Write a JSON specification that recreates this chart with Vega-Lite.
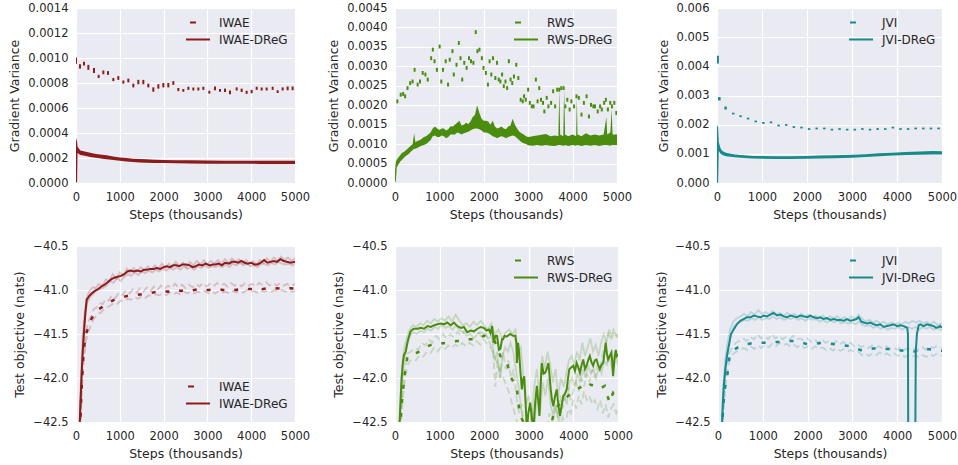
{
"$schema":"https://vega.github.io/schema/vega-lite/v6.json",
"background":"white",
"padding":{"left":8,"top":2,"right":0,"bottom":0},
"config":{
"view":{"fill":"#EAEAF2","stroke":null},
"axis":{"domain":false,"ticks":false,"tickSize":0,"grid":true,"gridColor":"#ffffff","gridWidth":1.2,"gridOpacity":1,"labelFont":"DejaVu Sans","labelFontSize":11.5,"labelColor":"#262626","labelPadding":8,"labelFlush":false,"labelOverlap":false,"titleFont":"DejaVu Sans","titleFontSize":12.5,"titleFontWeight":"normal","titleColor":"#262626","titlePadding":6},
"legend":{"labelFont":"DejaVu Sans","labelFontSize":12,"labelColor":"#262626","labelOffset":8,"rowPadding":0,"clipHeight":17,"padding":0,"symbolType":"stroke","symbolSize":576,"symbolStrokeWidth":2,"orient":"none"}
},
"datasets":{
"p1b":[{"x":0,"lo":0.000955,"hi":0.001005},{"x":91,"lo":0.000915,"hi":0.00095},{"x":183,"lo":0.00094,"hi":0.00097},{"x":282,"lo":0.000905,"hi":0.000945},{"x":411,"lo":0.00088,"hi":0.00092},{"x":517,"lo":0.00084,"hi":0.000865},{"x":624,"lo":0.00087,"hi":0.0009},{"x":731,"lo":0.000865,"hi":0.000895},{"x":852,"lo":0.000815,"hi":0.00084},{"x":966,"lo":0.000825,"hi":0.000855},{"x":1081,"lo":0.000795,"hi":0.00082},{"x":1195,"lo":0.000805,"hi":0.000835},{"x":1309,"lo":0.000765,"hi":0.000795},{"x":1423,"lo":0.00079,"hi":0.000825},{"x":1537,"lo":0.00079,"hi":0.000825},{"x":1651,"lo":0.000765,"hi":0.000795},{"x":1765,"lo":0.00073,"hi":0.000765},{"x":1880,"lo":0.000755,"hi":0.00079},{"x":1994,"lo":0.000765,"hi":0.0008},{"x":2108,"lo":0.000765,"hi":0.0008},{"x":2222,"lo":0.000785,"hi":0.000815},{"x":2336,"lo":0.000735,"hi":0.00076},{"x":2450,"lo":0.00073,"hi":0.000752},{"x":2565,"lo":0.000745,"hi":0.00077},{"x":2679,"lo":0.00074,"hi":0.000764},{"x":2793,"lo":0.00074,"hi":0.000764},{"x":2907,"lo":0.000745,"hi":0.00077},{"x":3044,"lo":0.000715,"hi":0.000738},{"x":3173,"lo":0.000742,"hi":0.000772},{"x":3288,"lo":0.00073,"hi":0.000752},{"x":3402,"lo":0.000728,"hi":0.000755},{"x":3516,"lo":0.00071,"hi":0.00074},{"x":3668,"lo":0.00074,"hi":0.000765},{"x":3782,"lo":0.000728,"hi":0.000755},{"x":3896,"lo":0.000713,"hi":0.000738},{"x":4010,"lo":0.000718,"hi":0.000745},{"x":4125,"lo":0.000745,"hi":0.00077},{"x":4239,"lo":0.00074,"hi":0.000764},{"x":4353,"lo":0.00074,"hi":0.000764},{"x":4490,"lo":0.000745,"hi":0.00077},{"x":4604,"lo":0.00072,"hi":0.000742},{"x":4718,"lo":0.00074,"hi":0.000765},{"x":4832,"lo":0.000742,"hi":0.000772},{"x":4946,"lo":0.000742,"hi":0.000772}],
"p1d":[{"x":0,"lo":0,"hi":0.00036},{"x":25,"lo":0.00001,"hi":0.00033},{"x":35,"lo":0.00024,"hi":0.00029},{"x":100,"lo":0.000225,"hi":0.00026},{"x":200,"lo":0.000218,"hi":0.000252},{"x":300,"lo":0.00021,"hi":0.000245},{"x":400,"lo":0.000205,"hi":0.000237},{"x":500,"lo":0.0002,"hi":0.00023},{"x":600,"lo":0.000195,"hi":0.000226},{"x":700,"lo":0.00019,"hi":0.000222},{"x":850,"lo":0.000184,"hi":0.000213},{"x":1000,"lo":0.000178,"hi":0.000205},{"x":1150,"lo":0.000172,"hi":0.0002},{"x":1300,"lo":0.000168,"hi":0.000195},{"x":1450,"lo":0.000165,"hi":0.000192},{"x":1600,"lo":0.000163,"hi":0.00019},{"x":1800,"lo":0.000161,"hi":0.000187},{"x":2000,"lo":0.00016,"hi":0.000185},{"x":2300,"lo":0.000158,"hi":0.000183},{"x":2600,"lo":0.000157,"hi":0.000182},{"x":3000,"lo":0.000155,"hi":0.00018},{"x":3400,"lo":0.000155,"hi":0.000179},{"x":3800,"lo":0.000154,"hi":0.000179},{"x":4200,"lo":0.000153,"hi":0.000178},{"x":4600,"lo":0.000153,"hi":0.000178},{"x":5000,"lo":0.000153,"hi":0.000178}],
"p2b":[{"x":53,"lo":0.00205,"hi":0.00215},{"x":129,"lo":0.00222,"hi":0.00232},{"x":183,"lo":0.00224,"hi":0.00234},{"x":228,"lo":0.00218,"hi":0.00228},{"x":282,"lo":0.00239,"hi":0.00249},{"x":342,"lo":0.00252,"hi":0.00262},{"x":396,"lo":0.00256,"hi":0.00266},{"x":441,"lo":0.00286,"hi":0.00296},{"x":510,"lo":0.00248,"hi":0.00258},{"x":563,"lo":0.00256,"hi":0.00266},{"x":624,"lo":0.00278,"hi":0.00288},{"x":685,"lo":0.00274,"hi":0.00284},{"x":738,"lo":0.00261,"hi":0.00271},{"x":814,"lo":0.00316,"hi":0.00326},{"x":852,"lo":0.00338,"hi":0.00348},{"x":890,"lo":0.00308,"hi":0.00318},{"x":944,"lo":0.00286,"hi":0.00296},{"x":1005,"lo":0.00346,"hi":0.00356},{"x":1043,"lo":0.00256,"hi":0.00266},{"x":1081,"lo":0.00286,"hi":0.00296},{"x":1142,"lo":0.00308,"hi":0.00318},{"x":1195,"lo":0.00248,"hi":0.00258},{"x":1233,"lo":0.00312,"hi":0.00322},{"x":1294,"lo":0.00334,"hi":0.00344},{"x":1324,"lo":0.00274,"hi":0.00284},{"x":1385,"lo":0.00299,"hi":0.00309},{"x":1438,"lo":0.00355,"hi":0.00365},{"x":1476,"lo":0.00316,"hi":0.00326},{"x":1514,"lo":0.00261,"hi":0.00271},{"x":1560,"lo":0.00304,"hi":0.00314},{"x":1613,"lo":0.00291,"hi":0.00301},{"x":1667,"lo":0.00316,"hi":0.00326},{"x":1712,"lo":0.00308,"hi":0.00318},{"x":1766,"lo":0.00304,"hi":0.00314},{"x":1819,"lo":0.00383,"hi":0.00393},{"x":1857,"lo":0.00334,"hi":0.00344},{"x":1902,"lo":0.00338,"hi":0.00348},{"x":1956,"lo":0.00316,"hi":0.00326},{"x":1994,"lo":0.00291,"hi":0.00301},{"x":2047,"lo":0.00278,"hi":0.00288},{"x":2093,"lo":0.00248,"hi":0.00258},{"x":2131,"lo":0.00308,"hi":0.00318},{"x":2169,"lo":0.00274,"hi":0.00284},{"x":2207,"lo":0.00316,"hi":0.00326},{"x":2260,"lo":0.00265,"hi":0.00275},{"x":2298,"lo":0.00304,"hi":0.00314},{"x":2336,"lo":0.00261,"hi":0.00271},{"x":2374,"lo":0.00256,"hi":0.00266},{"x":2412,"lo":0.00274,"hi":0.00284},{"x":2450,"lo":0.00244,"hi":0.00254},{"x":2488,"lo":0.00256,"hi":0.00266},{"x":2526,"lo":0.00239,"hi":0.00249},{"x":2564,"lo":0.00308,"hi":0.00318},{"x":2603,"lo":0.00261,"hi":0.00271},{"x":2641,"lo":0.00252,"hi":0.00262},{"x":2679,"lo":0.00269,"hi":0.00279},{"x":2732,"lo":0.00299,"hi":0.00309},{"x":2778,"lo":0.00265,"hi":0.00275},{"x":2831,"lo":0.00209,"hi":0.00219},{"x":2877,"lo":0.00205,"hi":0.00215},{"x":2907,"lo":0.00218,"hi":0.00228},{"x":2945,"lo":0.00209,"hi":0.00219},{"x":2998,"lo":0.00235,"hi":0.00245},{"x":3036,"lo":0.00201,"hi":0.00211},{"x":3082,"lo":0.00192,"hi":0.00202},{"x":3120,"lo":0.00192,"hi":0.00202},{"x":3173,"lo":0.00261,"hi":0.00271},{"x":3211,"lo":0.00205,"hi":0.00215},{"x":3249,"lo":0.00239,"hi":0.00249},{"x":3288,"lo":0.00209,"hi":0.00219},{"x":3333,"lo":0.00201,"hi":0.00211},{"x":3364,"lo":0.00179,"hi":0.00189},{"x":3417,"lo":0.00214,"hi":0.00224},{"x":3455,"lo":0.00192,"hi":0.00202},{"x":3516,"lo":0.00201,"hi":0.00211},{"x":3562,"lo":0.00231,"hi":0.00241},{"x":3607,"lo":0.00192,"hi":0.00202},{"x":3653,"lo":0.00235,"hi":0.00245},{"x":3699,"lo":0.00235,"hi":0.00245},{"x":3745,"lo":0.00239,"hi":0.00249},{"x":3798,"lo":0.00239,"hi":0.00249},{"x":3836,"lo":0.00192,"hi":0.00202},{"x":3881,"lo":0.00209,"hi":0.00219},{"x":3934,"lo":0.00184,"hi":0.00194},{"x":3973,"lo":0.00205,"hi":0.00215},{"x":4033,"lo":0.00192,"hi":0.00202},{"x":4087,"lo":0.00218,"hi":0.00228},{"x":4140,"lo":0.00214,"hi":0.00224},{"x":4201,"lo":0.00171,"hi":0.00181},{"x":4254,"lo":0.00201,"hi":0.00211},{"x":4315,"lo":0.00218,"hi":0.00228},{"x":4368,"lo":0.00166,"hi":0.00176},{"x":4414,"lo":0.00196,"hi":0.00206},{"x":4467,"lo":0.00192,"hi":0.00202},{"x":4505,"lo":0.00192,"hi":0.00202},{"x":4566,"lo":0.00179,"hi":0.00189},{"x":4619,"lo":0.00192,"hi":0.00202},{"x":4657,"lo":0.00184,"hi":0.00194},{"x":4711,"lo":0.00201,"hi":0.00211},{"x":4749,"lo":0.00209,"hi":0.00219},{"x":4795,"lo":0.00184,"hi":0.00194},{"x":4848,"lo":0.00201,"hi":0.00211},{"x":4886,"lo":0.00192,"hi":0.00202},{"x":4939,"lo":0.00201,"hi":0.00211},{"x":4985,"lo":0.00175,"hi":0.00185}],
"p2d":[{"x":0,"lo":0,"hi":0.0003},{"x":20,"lo":0.00005,"hi":0.00055},{"x":40,"lo":0.0004,"hi":0.0006},{"x":80,"lo":0.00048,"hi":0.00066},{"x":120,"lo":0.00055,"hi":0.00072},{"x":160,"lo":0.0006,"hi":0.00078},{"x":200,"lo":0.00065,"hi":0.0008},{"x":250,"lo":0.0007,"hi":0.00085},{"x":300,"lo":0.00074,"hi":0.0009},{"x":350,"lo":0.0008,"hi":0.00095},{"x":400,"lo":0.00085,"hi":0.001},{"x":430,"lo":0.00088,"hi":0.00128},{"x":460,"lo":0.00088,"hi":0.00105},{"x":500,"lo":0.0009,"hi":0.00108},{"x":550,"lo":0.00093,"hi":0.0011},{"x":600,"lo":0.00096,"hi":0.00113},{"x":650,"lo":0.00098,"hi":0.00118},{"x":700,"lo":0.001,"hi":0.0012},{"x":750,"lo":0.00105,"hi":0.00125},{"x":800,"lo":0.0011,"hi":0.0013},{"x":850,"lo":0.0012,"hi":0.0014},{"x":900,"lo":0.00122,"hi":0.00145},{"x":950,"lo":0.00118,"hi":0.0014},{"x":1000,"lo":0.00118,"hi":0.00136},{"x":1050,"lo":0.00122,"hi":0.0014},{"x":1100,"lo":0.0012,"hi":0.0014},{"x":1150,"lo":0.00115,"hi":0.00135},{"x":1200,"lo":0.00118,"hi":0.00138},{"x":1250,"lo":0.00125,"hi":0.00146},{"x":1300,"lo":0.00125,"hi":0.00145},{"x":1350,"lo":0.00125,"hi":0.0015},{"x":1400,"lo":0.0013,"hi":0.00155},{"x":1450,"lo":0.00128,"hi":0.0016},{"x":1500,"lo":0.00125,"hi":0.00148},{"x":1550,"lo":0.00128,"hi":0.0015},{"x":1600,"lo":0.0013,"hi":0.00155},{"x":1650,"lo":0.00132,"hi":0.00152},{"x":1700,"lo":0.00135,"hi":0.00158},{"x":1750,"lo":0.00138,"hi":0.0017},{"x":1800,"lo":0.0014,"hi":0.00175},{"x":1850,"lo":0.0014,"hi":0.002},{"x":1900,"lo":0.00138,"hi":0.0018},{"x":1950,"lo":0.00135,"hi":0.00165},{"x":2000,"lo":0.0013,"hi":0.0016},{"x":2050,"lo":0.0013,"hi":0.0016},{"x":2100,"lo":0.00128,"hi":0.00158},{"x":2150,"lo":0.00125,"hi":0.0015},{"x":2200,"lo":0.0012,"hi":0.0016},{"x":2250,"lo":0.00118,"hi":0.00145},{"x":2300,"lo":0.00115,"hi":0.0014},{"x":2350,"lo":0.00118,"hi":0.00142},{"x":2400,"lo":0.0012,"hi":0.00145},{"x":2450,"lo":0.00118,"hi":0.0014},{"x":2500,"lo":0.00115,"hi":0.00138},{"x":2550,"lo":0.00118,"hi":0.00145},{"x":2600,"lo":0.0012,"hi":0.00148},{"x":2650,"lo":0.00122,"hi":0.00165},{"x":2700,"lo":0.0012,"hi":0.0015},{"x":2750,"lo":0.00115,"hi":0.0014},{"x":2800,"lo":0.0011,"hi":0.00132},{"x":2850,"lo":0.00105,"hi":0.00128},{"x":2900,"lo":0.00102,"hi":0.00125},{"x":2950,"lo":0.001,"hi":0.0012},{"x":3000,"lo":0.00097,"hi":0.00118},{"x":3100,"lo":0.00096,"hi":0.0012},{"x":3200,"lo":0.00098,"hi":0.00122},{"x":3300,"lo":0.00096,"hi":0.00124},{"x":3400,"lo":0.00098,"hi":0.00126},{"x":3500,"lo":0.00096,"hi":0.0012},{"x":3600,"lo":0.00095,"hi":0.00122},{"x":3680,"lo":0.00098,"hi":0.0012},{"x":3700,"lo":0.00098,"hi":0.0024},{"x":3720,"lo":0.00098,"hi":0.00125},{"x":3790,"lo":0.00096,"hi":0.0012},{"x":3810,"lo":0.00096,"hi":0.0024},{"x":3830,"lo":0.00098,"hi":0.00125},{"x":3900,"lo":0.00095,"hi":0.0012},{"x":4000,"lo":0.00098,"hi":0.00125},{"x":4080,"lo":0.00096,"hi":0.0012},{"x":4095,"lo":0.00098,"hi":0.0022},{"x":4110,"lo":0.00098,"hi":0.00125},{"x":4200,"lo":0.00095,"hi":0.0012},{"x":4300,"lo":0.00098,"hi":0.00128},{"x":4400,"lo":0.00096,"hi":0.00122},{"x":4500,"lo":0.00098,"hi":0.00125},{"x":4600,"lo":0.00095,"hi":0.00122},{"x":4700,"lo":0.00098,"hi":0.00125},{"x":4760,"lo":0.00098,"hi":0.0017},{"x":4780,"lo":0.00098,"hi":0.00125},{"x":4850,"lo":0.00096,"hi":0.0013},{"x":4880,"lo":0.00098,"hi":0.0019},{"x":4900,"lo":0.00098,"hi":0.00125},{"x":5000,"lo":0.00098,"hi":0.00125}],
"p3b":[{"x":15,"lo":0.0041,"hi":0.00436},{"x":52,"lo":0.00283,"hi":0.00295},{"x":191,"lo":0.00252,"hi":0.00262},{"x":361,"lo":0.00235,"hi":0.00241},{"x":523,"lo":0.00226,"hi":0.00232},{"x":692,"lo":0.00218,"hi":0.00224},{"x":861,"lo":0.00208,"hi":0.00214},{"x":1030,"lo":0.00203,"hi":0.00209},{"x":1200,"lo":0.00205,"hi":0.00211},{"x":1369,"lo":0.00194,"hi":0.002},{"x":1538,"lo":0.00196,"hi":0.00202},{"x":1708,"lo":0.00189,"hi":0.00195},{"x":1877,"lo":0.00187,"hi":0.00193},{"x":2046,"lo":0.00182,"hi":0.00188},{"x":2215,"lo":0.00184,"hi":0.0019},{"x":2385,"lo":0.00184,"hi":0.0019},{"x":2554,"lo":0.0018,"hi":0.00186},{"x":2723,"lo":0.00182,"hi":0.00188},{"x":2892,"lo":0.0018,"hi":0.00186},{"x":3062,"lo":0.0018,"hi":0.00186},{"x":3231,"lo":0.00182,"hi":0.00188},{"x":3400,"lo":0.0018,"hi":0.00186},{"x":3570,"lo":0.00182,"hi":0.00188},{"x":3739,"lo":0.00182,"hi":0.00188},{"x":3908,"lo":0.00187,"hi":0.00193},{"x":4077,"lo":0.00182,"hi":0.00188},{"x":4247,"lo":0.00182,"hi":0.00188},{"x":4416,"lo":0.00184,"hi":0.0019},{"x":4585,"lo":0.00184,"hi":0.0019},{"x":4755,"lo":0.00184,"hi":0.0019},{"x":4924,"lo":0.00184,"hi":0.0019}],
"p3d":[{"x":0,"lo":0,"hi":0.002},{"x":25,"lo":0.00002,"hi":0.0019},{"x":40,"lo":0.0011,"hi":0.0014},{"x":80,"lo":0.001,"hi":0.00118},{"x":120,"lo":0.00096,"hi":0.0011},{"x":200,"lo":0.00092,"hi":0.00104},{"x":300,"lo":0.0009,"hi":0.001},{"x":400,"lo":0.00088,"hi":0.00098},{"x":600,"lo":0.00086,"hi":0.00095},{"x":800,"lo":0.00084,"hi":0.00093},{"x":1000,"lo":0.00083,"hi":0.00093},{"x":1300,"lo":0.00082,"hi":0.00092},{"x":1600,"lo":0.00082,"hi":0.00092},{"x":2000,"lo":0.00083,"hi":0.00093},{"x":2300,"lo":0.00084,"hi":0.00094},{"x":2600,"lo":0.00085,"hi":0.00095},{"x":3000,"lo":0.00087,"hi":0.00097},{"x":3300,"lo":0.00089,"hi":0.00099},{"x":3600,"lo":0.00092,"hi":0.00102},{"x":3900,"lo":0.00094,"hi":0.00104},{"x":4200,"lo":0.00096,"hi":0.00106},{"x":4500,"lo":0.00097,"hi":0.00108},{"x":4800,"lo":0.00098,"hi":0.0011},{"x":5000,"lo":0.00098,"hi":0.00109}],
"p4md":[{"x":80,"y":-42.6},{"x":100,"y":-42.3},{"x":134,"y":-41.9},{"x":160,"y":-41.65},{"x":186,"y":-41.45},{"x":215,"y":-41.25},{"x":245,"y":-41.11},{"x":300,"y":-41.07},{"x":357,"y":-41.04},{"x":430,"y":-41.01},{"x":505,"y":-40.99},{"x":580,"y":-40.96},{"x":654,"y":-40.94},{"x":728,"y":-40.91},{"x":802,"y":-40.88},{"x":877,"y":-40.86},{"x":951,"y":-40.85},{"x":1025,"y":-40.84},{"x":1100,"y":-40.82},{"x":1174,"y":-40.79},{"x":1250,"y":-40.78},{"x":1320,"y":-40.79},{"x":1397,"y":-40.78},{"x":1480,"y":-40.79},{"x":1550,"y":-40.77},{"x":1620,"y":-40.77},{"x":1700,"y":-40.76},{"x":1770,"y":-40.76},{"x":1843,"y":-40.75},{"x":1920,"y":-40.76},{"x":2000,"y":-40.74},{"x":2066,"y":-40.73},{"x":2150,"y":-40.74},{"x":2220,"y":-40.72},{"x":2288,"y":-40.72},{"x":2360,"y":-40.73},{"x":2430,"y":-40.71},{"x":2511,"y":-40.71},{"x":2600,"y":-40.72},{"x":2660,"y":-40.74},{"x":2734,"y":-40.73},{"x":2800,"y":-40.71},{"x":2880,"y":-40.72},{"x":2957,"y":-40.7},{"x":3050,"y":-40.72},{"x":3120,"y":-40.71},{"x":3180,"y":-40.71},{"x":3260,"y":-40.7},{"x":3330,"y":-40.72},{"x":3403,"y":-40.69},{"x":3500,"y":-40.7},{"x":3560,"y":-40.68},{"x":3626,"y":-40.68},{"x":3700,"y":-40.69},{"x":3775,"y":-40.67},{"x":3850,"y":-40.69},{"x":3920,"y":-40.7},{"x":3998,"y":-40.69},{"x":4070,"y":-40.71},{"x":4146,"y":-40.71},{"x":4220,"y":-40.69},{"x":4295,"y":-40.66},{"x":4370,"y":-40.69},{"x":4440,"y":-40.68},{"x":4518,"y":-40.67},{"x":4590,"y":-40.68},{"x":4666,"y":-40.65},{"x":4740,"y":-40.67},{"x":4815,"y":-40.68},{"x":4900,"y":-40.69},{"x":5000,"y":-40.68}],
"p4mb":[{"x":95,"y":-42.6},{"x":120,"y":-42.2},{"x":150,"y":-41.9},{"x":171,"y":-41.71},{"x":220,"y":-41.52},{"x":282,"y":-41.41},{"x":350,"y":-41.33},{"x":430,"y":-41.26},{"x":505,"y":-41.22},{"x":580,"y":-41.2},{"x":660,"y":-41.17},{"x":730,"y":-41.15},{"x":800,"y":-41.13},{"x":877,"y":-41.11},{"x":960,"y":-41.1},{"x":1050,"y":-41.08},{"x":1150,"y":-41.07},{"x":1248,"y":-41.06},{"x":1350,"y":-41.06},{"x":1450,"y":-41.05},{"x":1550,"y":-41.05},{"x":1650,"y":-41.04},{"x":1750,"y":-41.03},{"x":1850,"y":-41.02},{"x":1992,"y":-41.01},{"x":2100,"y":-41.02},{"x":2200,"y":-41.0},{"x":2288,"y":-41.0},{"x":2400,"y":-41.01},{"x":2500,"y":-41.0},{"x":2600,"y":-41.01},{"x":2700,"y":-41.0},{"x":2800,"y":-40.99},{"x":2900,"y":-41.0},{"x":3031,"y":-41.0},{"x":3150,"y":-40.99},{"x":3254,"y":-40.99},{"x":3350,"y":-41.0},{"x":3450,"y":-41.0},{"x":3550,"y":-40.99},{"x":3650,"y":-41.0},{"x":3750,"y":-40.99},{"x":3850,"y":-40.98},{"x":3950,"y":-40.99},{"x":4050,"y":-40.99},{"x":4150,"y":-41.0},{"x":4250,"y":-40.99},{"x":4350,"y":-40.98},{"x":4450,"y":-40.99},{"x":4550,"y":-40.98},{"x":4666,"y":-40.985},{"x":4780,"y":-40.99},{"x":4880,"y":-40.98},{"x":5000,"y":-40.985}],
"p4ld":[{"r":"a","x":80,"y":-42.6},{"r":"a","x":120,"y":-41.9},{"r":"a","x":150,"y":-41.55},{"r":"a","x":190,"y":-41.3},{"r":"a","x":240,"y":-41.1},{"r":"a","x":300,"y":-41.02},{"r":"a","x":380,"y":-40.97},{"r":"a","x":450,"y":-40.98},{"r":"a","x":520,"y":-40.93},{"r":"a","x":600,"y":-40.95},{"r":"a","x":680,"y":-40.88},{"r":"a","x":760,"y":-40.9},{"r":"a","x":840,"y":-40.82},{"r":"a","x":920,"y":-40.87},{"r":"a","x":1000,"y":-40.8},{"r":"a","x":1080,"y":-40.84},{"r":"a","x":1160,"y":-40.76},{"r":"a","x":1240,"y":-40.8},{"r":"a","x":1320,"y":-40.75},{"r":"a","x":1400,"y":-40.79},{"r":"a","x":1480,"y":-40.74},{"r":"a","x":1560,"y":-40.78},{"r":"a","x":1640,"y":-40.73},{"r":"a","x":1720,"y":-40.77},{"r":"a","x":1800,"y":-40.72},{"r":"a","x":1880,"y":-40.76},{"r":"a","x":1960,"y":-40.7},{"r":"a","x":2040,"y":-40.75},{"r":"a","x":2120,"y":-40.7},{"r":"a","x":2200,"y":-40.74},{"r":"a","x":2280,"y":-40.68},{"r":"a","x":2360,"y":-40.73},{"r":"a","x":2440,"y":-40.69},{"r":"a","x":2520,"y":-40.74},{"r":"a","x":2600,"y":-40.68},{"r":"a","x":2680,"y":-40.72},{"r":"a","x":2760,"y":-40.67},{"r":"a","x":2840,"y":-40.71},{"r":"a","x":2920,"y":-40.66},{"r":"a","x":3000,"y":-40.71},{"r":"a","x":3080,"y":-40.67},{"r":"a","x":3160,"y":-40.7},{"r":"a","x":3240,"y":-40.66},{"r":"a","x":3320,"y":-40.7},{"r":"a","x":3400,"y":-40.65},{"r":"a","x":3480,"y":-40.69},{"r":"a","x":3560,"y":-40.64},{"r":"a","x":3640,"y":-40.68},{"r":"a","x":3720,"y":-40.65},{"r":"a","x":3800,"y":-40.7},{"r":"a","x":3880,"y":-40.66},{"r":"a","x":3960,"y":-40.7},{"r":"a","x":4040,"y":-40.67},{"r":"a","x":4120,"y":-40.71},{"r":"a","x":4200,"y":-40.66},{"r":"a","x":4280,"y":-40.69},{"r":"a","x":4360,"y":-40.64},{"r":"a","x":4440,"y":-40.68},{"r":"a","x":4520,"y":-40.63},{"r":"a","x":4600,"y":-40.67},{"r":"a","x":4680,"y":-40.62},{"r":"a","x":4760,"y":-40.66},{"r":"a","x":4840,"y":-40.63},{"r":"a","x":4920,"y":-40.67},{"r":"a","x":5000,"y":-40.64},
{"r":"b","x":90,"y":-42.6},{"r":"b","x":130,"y":-41.95},{"r":"b","x":160,"y":-41.6},{"r":"b","x":200,"y":-41.35},{"r":"b","x":250,"y":-41.15},{"r":"b","x":320,"y":-41.08},{"r":"b","x":400,"y":-41.04},{"r":"b","x":470,"y":-41.0},{"r":"b","x":550,"y":-40.99},{"r":"b","x":630,"y":-40.97},{"r":"b","x":700,"y":-40.95},{"r":"b","x":780,"y":-40.9},{"r":"b","x":860,"y":-40.92},{"r":"b","x":940,"y":-40.86},{"r":"b","x":1020,"y":-40.9},{"r":"b","x":1100,"y":-40.85},{"r":"b","x":1180,"y":-40.82},{"r":"b","x":1260,"y":-40.84},{"r":"b","x":1340,"y":-40.8},{"r":"b","x":1420,"y":-40.83},{"r":"b","x":1500,"y":-40.79},{"r":"b","x":1580,"y":-40.81},{"r":"b","x":1660,"y":-40.78},{"r":"b","x":1740,"y":-40.8},{"r":"b","x":1820,"y":-40.77},{"r":"b","x":1900,"y":-40.79},{"r":"b","x":1980,"y":-40.76},{"r":"b","x":2060,"y":-40.78},{"r":"b","x":2140,"y":-40.75},{"r":"b","x":2220,"y":-40.77},{"r":"b","x":2300,"y":-40.74},{"r":"b","x":2380,"y":-40.77},{"r":"b","x":2460,"y":-40.73},{"r":"b","x":2540,"y":-40.76},{"r":"b","x":2620,"y":-40.74},{"r":"b","x":2700,"y":-40.77},{"r":"b","x":2780,"y":-40.73},{"r":"b","x":2860,"y":-40.75},{"r":"b","x":2940,"y":-40.72},{"r":"b","x":3020,"y":-40.75},{"r":"b","x":3100,"y":-40.73},{"r":"b","x":3180,"y":-40.74},{"r":"b","x":3260,"y":-40.72},{"r":"b","x":3340,"y":-40.74},{"r":"b","x":3420,"y":-40.71},{"r":"b","x":3500,"y":-40.74},{"r":"b","x":3580,"y":-40.7},{"r":"b","x":3660,"y":-40.72},{"r":"b","x":3740,"y":-40.69},{"r":"b","x":3820,"y":-40.72},{"r":"b","x":3900,"y":-40.7},{"r":"b","x":3980,"y":-40.73},{"r":"b","x":4060,"y":-40.72},{"r":"b","x":4140,"y":-40.74},{"r":"b","x":4220,"y":-40.71},{"r":"b","x":4300,"y":-40.7},{"r":"b","x":4380,"y":-40.72},{"r":"b","x":4460,"y":-40.69},{"r":"b","x":4540,"y":-40.71},{"r":"b","x":4620,"y":-40.68},{"r":"b","x":4700,"y":-40.7},{"r":"b","x":4780,"y":-40.71},{"r":"b","x":4860,"y":-40.7},{"r":"b","x":4940,"y":-40.72},{"r":"b","x":5000,"y":-40.7}],
"p4lb":[{"r":"c","x":95,"y":-42.6},{"r":"c","x":130,"y":-42.0},{"r":"c","x":170,"y":-41.65},{"r":"c","x":220,"y":-41.5},{"r":"c","x":280,"y":-41.36},{"r":"c","x":340,"y":-41.3},{"r":"c","x":400,"y":-41.22},{"r":"c","x":470,"y":-41.2},{"r":"c","x":540,"y":-41.15},{"r":"c","x":610,"y":-41.16},{"r":"c","x":680,"y":-41.1},{"r":"c","x":750,"y":-41.12},{"r":"c","x":820,"y":-41.06},{"r":"c","x":900,"y":-41.09},{"r":"c","x":980,"y":-41.03},{"r":"c","x":1060,"y":-41.06},{"r":"c","x":1140,"y":-41.0},{"r":"c","x":1220,"y":-41.04},{"r":"c","x":1300,"y":-40.99},{"r":"c","x":1380,"y":-41.03},{"r":"c","x":1460,"y":-40.98},{"r":"c","x":1540,"y":-41.02},{"r":"c","x":1620,"y":-40.97},{"r":"c","x":1700,"y":-41.01},{"r":"c","x":1780,"y":-40.96},{"r":"c","x":1860,"y":-41.0},{"r":"c","x":1940,"y":-40.95},{"r":"c","x":2020,"y":-40.99},{"r":"c","x":2100,"y":-40.95},{"r":"c","x":2180,"y":-40.98},{"r":"c","x":2260,"y":-40.93},{"r":"c","x":2340,"y":-40.97},{"r":"c","x":2420,"y":-40.94},{"r":"c","x":2500,"y":-40.98},{"r":"c","x":2580,"y":-40.94},{"r":"c","x":2660,"y":-40.97},{"r":"c","x":2740,"y":-40.93},{"r":"c","x":2820,"y":-40.96},{"r":"c","x":2900,"y":-40.92},{"r":"c","x":2980,"y":-40.96},{"r":"c","x":3060,"y":-40.93},{"r":"c","x":3140,"y":-40.96},{"r":"c","x":3220,"y":-40.92},{"r":"c","x":3300,"y":-40.95},{"r":"c","x":3380,"y":-40.93},{"r":"c","x":3460,"y":-40.96},{"r":"c","x":3540,"y":-40.92},{"r":"c","x":3620,"y":-40.95},{"r":"c","x":3700,"y":-40.93},{"r":"c","x":3780,"y":-40.96},{"r":"c","x":3860,"y":-40.92},{"r":"c","x":3940,"y":-40.95},{"r":"c","x":4020,"y":-40.93},{"r":"c","x":4100,"y":-40.96},{"r":"c","x":4180,"y":-40.92},{"r":"c","x":4260,"y":-40.94},{"r":"c","x":4340,"y":-40.91},{"r":"c","x":4420,"y":-40.95},{"r":"c","x":4500,"y":-40.92},{"r":"c","x":4580,"y":-40.95},{"r":"c","x":4660,"y":-40.92},{"r":"c","x":4740,"y":-40.95},{"r":"c","x":4820,"y":-40.93},{"r":"c","x":4900,"y":-40.96},{"r":"c","x":5000,"y":-40.93},
{"r":"d","x":100,"y":-42.6},{"r":"d","x":140,"y":-42.1},{"r":"d","x":180,"y":-41.8},{"r":"d","x":230,"y":-41.58},{"r":"d","x":290,"y":-41.47},{"r":"d","x":350,"y":-41.38},{"r":"d","x":420,"y":-41.32},{"r":"d","x":490,"y":-41.27},{"r":"d","x":560,"y":-41.26},{"r":"d","x":630,"y":-41.22},{"r":"d","x":700,"y":-41.2},{"r":"d","x":780,"y":-41.18},{"r":"d","x":860,"y":-41.15},{"r":"d","x":940,"y":-41.16},{"r":"d","x":1020,"y":-41.12},{"r":"d","x":1100,"y":-41.13},{"r":"d","x":1180,"y":-41.1},{"r":"d","x":1260,"y":-41.11},{"r":"d","x":1340,"y":-41.08},{"r":"d","x":1420,"y":-41.1},{"r":"d","x":1500,"y":-41.07},{"r":"d","x":1580,"y":-41.09},{"r":"d","x":1660,"y":-41.06},{"r":"d","x":1740,"y":-41.07},{"r":"d","x":1820,"y":-41.05},{"r":"d","x":1900,"y":-41.06},{"r":"d","x":1980,"y":-41.04},{"r":"d","x":2060,"y":-41.06},{"r":"d","x":2140,"y":-41.03},{"r":"d","x":2220,"y":-41.05},{"r":"d","x":2300,"y":-41.03},{"r":"d","x":2380,"y":-41.05},{"r":"d","x":2460,"y":-41.02},{"r":"d","x":2540,"y":-41.04},{"r":"d","x":2620,"y":-41.02},{"r":"d","x":2700,"y":-41.04},{"r":"d","x":2780,"y":-41.02},{"r":"d","x":2860,"y":-41.03},{"r":"d","x":2940,"y":-41.01},{"r":"d","x":3020,"y":-41.04},{"r":"d","x":3100,"y":-41.02},{"r":"d","x":3180,"y":-41.04},{"r":"d","x":3260,"y":-41.01},{"r":"d","x":3340,"y":-41.03},{"r":"d","x":3420,"y":-41.02},{"r":"d","x":3500,"y":-41.04},{"r":"d","x":3580,"y":-41.01},{"r":"d","x":3660,"y":-41.03},{"r":"d","x":3740,"y":-41.01},{"r":"d","x":3820,"y":-41.03},{"r":"d","x":3900,"y":-41.0},{"r":"d","x":3980,"y":-41.02},{"r":"d","x":4060,"y":-41.01},{"r":"d","x":4140,"y":-41.03},{"r":"d","x":4220,"y":-41.0},{"r":"d","x":4300,"y":-41.02},{"r":"d","x":4380,"y":-41.0},{"r":"d","x":4460,"y":-41.02},{"r":"d","x":4540,"y":-41.0},{"r":"d","x":4620,"y":-41.02},{"r":"d","x":4700,"y":-41.0},{"r":"d","x":4780,"y":-41.02},{"r":"d","x":4860,"y":-41.0},{"r":"d","x":4940,"y":-41.02},{"r":"d","x":5000,"y":-41.01}],
"p5md":[{"x":95,"y":-42.6},{"x":130,"y":-42.2},{"x":150,"y":-42.0},{"x":171,"y":-41.85},{"x":200,"y":-41.74},{"x":240,"y":-41.7},{"x":270,"y":-41.62},{"x":300,"y":-41.55},{"x":350,"y":-41.47},{"x":420,"y":-41.44},{"x":505,"y":-41.44},{"x":580,"y":-41.43},{"x":650,"y":-41.44},{"x":728,"y":-41.41},{"x":802,"y":-41.42},{"x":880,"y":-41.4},{"x":950,"y":-41.39},{"x":1030,"y":-41.38},{"x":1100,"y":-41.39},{"x":1170,"y":-41.37},{"x":1250,"y":-41.4},{"x":1322,"y":-41.37},{"x":1400,"y":-41.41},{"x":1480,"y":-41.43},{"x":1545,"y":-41.42},{"x":1620,"y":-41.48},{"x":1700,"y":-41.46},{"x":1768,"y":-41.47},{"x":1850,"y":-41.44},{"x":1920,"y":-41.42},{"x":1991,"y":-41.43},{"x":2050,"y":-41.46},{"x":2103,"y":-41.45},{"x":2140,"y":-41.49},{"x":2177,"y":-41.41},{"x":2214,"y":-41.6},{"x":2250,"y":-41.52},{"x":2288,"y":-41.52},{"x":2330,"y":-41.68},{"x":2363,"y":-41.67},{"x":2400,"y":-41.56},{"x":2422,"y":-41.56},{"x":2460,"y":-41.52},{"x":2500,"y":-41.53},{"x":2586,"y":-41.5},{"x":2640,"y":-41.52},{"x":2697,"y":-41.52},{"x":2720,"y":-41.6},{"x":2734,"y":-41.83},{"x":2760,"y":-41.6},{"x":2785,"y":-41.72},{"x":2808,"y":-41.9},{"x":2845,"y":-42.13},{"x":2870,"y":-42.02},{"x":2898,"y":-41.98},{"x":2930,"y":-42.3},{"x":2957,"y":-42.6},{"x":2990,"y":-42.4},{"x":3031,"y":-42.28},{"x":3070,"y":-42.45},{"x":3106,"y":-42.6},{"x":3140,"y":-42.3},{"x":3180,"y":-42.09},{"x":3210,"y":-42.25},{"x":3239,"y":-42.43},{"x":3265,"y":-42.1},{"x":3291,"y":-41.83},{"x":3330,"y":-41.95},{"x":3366,"y":-41.94},{"x":3400,"y":-41.9},{"x":3440,"y":-41.83},{"x":3470,"y":-42.0},{"x":3492,"y":-42.13},{"x":3520,"y":-42.25},{"x":3552,"y":-42.32},{"x":3590,"y":-42.2},{"x":3626,"y":-42.13},{"x":3660,"y":-42.3},{"x":3700,"y":-42.43},{"x":3740,"y":-42.3},{"x":3774,"y":-42.2},{"x":3810,"y":-42.18},{"x":3849,"y":-42.13},{"x":3880,"y":-42.0},{"x":3908,"y":-41.9},{"x":3950,"y":-41.88},{"x":3998,"y":-41.86},{"x":4035,"y":-41.92},{"x":4072,"y":-41.83},{"x":4110,"y":-41.88},{"x":4146,"y":-41.94},{"x":4185,"y":-41.85},{"x":4220,"y":-41.79},{"x":4260,"y":-41.9},{"x":4295,"y":-41.86},{"x":4330,"y":-41.8},{"x":4369,"y":-41.75},{"x":4405,"y":-41.82},{"x":4443,"y":-41.86},{"x":4480,"y":-41.8},{"x":4518,"y":-41.79},{"x":4555,"y":-41.85},{"x":4592,"y":-41.9},{"x":4630,"y":-41.85},{"x":4666,"y":-41.83},{"x":4700,"y":-41.7},{"x":4726,"y":-41.6},{"x":4750,"y":-41.72},{"x":4778,"y":-41.79},{"x":4815,"y":-41.75},{"x":4852,"y":-41.71},{"x":4870,"y":-41.8},{"x":4889,"y":-41.98},{"x":4920,"y":-41.8},{"x":4949,"y":-41.68},{"x":4975,"y":-41.75},{"x":5000,"y":-41.73}],
"p5mb":[{"x":110,"y":-42.6},{"x":150,"y":-42.3},{"x":208,"y":-42.0},{"x":250,"y":-41.85},{"x":282,"y":-41.75},{"x":350,"y":-41.74},{"x":430,"y":-41.72},{"x":505,"y":-41.71},{"x":600,"y":-41.68},{"x":728,"y":-41.64},{"x":820,"y":-41.62},{"x":914,"y":-41.6},{"x":1020,"y":-41.61},{"x":1137,"y":-41.6},{"x":1250,"y":-41.59},{"x":1397,"y":-41.58},{"x":1500,"y":-41.58},{"x":1620,"y":-41.56},{"x":1750,"y":-41.56},{"x":1880,"y":-41.56},{"x":1991,"y":-41.52},{"x":2100,"y":-41.54},{"x":2214,"y":-41.56},{"x":2290,"y":-41.65},{"x":2363,"y":-41.75},{"x":2440,"y":-41.8},{"x":2511,"y":-41.83},{"x":2550,"y":-41.9},{"x":2586,"y":-41.98},{"x":2660,"y":-42.05},{"x":2734,"y":-42.13},{"x":2770,"y":-42.3},{"x":2808,"y":-42.43},{"x":2880,"y":-42.5},{"x":2957,"y":-42.6},{"x":3100,"y":-42.7},{"x":3300,"y":-42.7},{"x":3450,"y":-42.6},{"x":3552,"y":-42.43},{"x":3620,"y":-42.35},{"x":3700,"y":-42.28},{"x":3800,"y":-42.25},{"x":3886,"y":-42.2},{"x":3980,"y":-42.17},{"x":4072,"y":-42.13},{"x":4180,"y":-42.1},{"x":4295,"y":-42.05},{"x":4400,"y":-42.08},{"x":4518,"y":-42.09},{"x":4600,"y":-42.12},{"x":4703,"y":-42.09},{"x":4760,"y":-42.2},{"x":4815,"y":-42.28},{"x":4850,"y":-42.22},{"x":4889,"y":-42.17},{"x":4950,"y":-42.22},{"x":5000,"y":-42.2}],
"p5ld":[{"r":"a","x":95,"y":-42.6},{"r":"a","x":140,"y":-42.0},{"r":"a","x":200,"y":-41.68},{"r":"a","x":260,"y":-41.55},{"r":"a","x":330,"y":-41.45},{"r":"a","x":400,"y":-41.4},{"r":"a","x":480,"y":-41.42},{"r":"a","x":560,"y":-41.38},{"r":"a","x":640,"y":-41.4},{"r":"a","x":720,"y":-41.35},{"r":"a","x":800,"y":-41.38},{"r":"a","x":880,"y":-41.33},{"r":"a","x":960,"y":-41.36},{"r":"a","x":1040,"y":-41.32},{"r":"a","x":1120,"y":-41.35},{"r":"a","x":1200,"y":-41.3},{"r":"a","x":1280,"y":-41.36},{"r":"a","x":1360,"y":-41.28},{"r":"a","x":1440,"y":-41.35},{"r":"a","x":1520,"y":-41.4},{"r":"a","x":1600,"y":-41.38},{"r":"a","x":1680,"y":-41.42},{"r":"a","x":1760,"y":-41.36},{"r":"a","x":1840,"y":-41.4},{"r":"a","x":1920,"y":-41.35},{"r":"a","x":2000,"y":-41.4},{"r":"a","x":2080,"y":-41.45},{"r":"a","x":2160,"y":-41.38},{"r":"a","x":2240,"y":-41.5},{"r":"a","x":2320,"y":-41.45},{"r":"a","x":2400,"y":-41.55},{"r":"a","x":2480,"y":-41.48},{"r":"a","x":2560,"y":-41.45},{"r":"a","x":2640,"y":-41.5},{"r":"a","x":2700,"y":-41.45},{"r":"a","x":2760,"y":-41.7},{"r":"a","x":2820,"y":-41.65},{"r":"a","x":2880,"y":-42.0},{"r":"a","x":2940,"y":-42.3},{"r":"a","x":3000,"y":-42.2},{"r":"a","x":3060,"y":-42.5},{"r":"a","x":3120,"y":-42.1},{"r":"a","x":3180,"y":-41.9},{"r":"a","x":3240,"y":-42.2},{"r":"a","x":3300,"y":-41.75},{"r":"a","x":3360,"y":-41.9},{"r":"a","x":3420,"y":-41.7},{"r":"a","x":3480,"y":-41.85},{"r":"a","x":3540,"y":-42.05},{"r":"a","x":3600,"y":-41.9},{"r":"a","x":3660,"y":-42.2},{"r":"a","x":3720,"y":-42.0},{"r":"a","x":3780,"y":-42.1},{"r":"a","x":3840,"y":-41.95},{"r":"a","x":3900,"y":-41.8},{"r":"a","x":3960,"y":-41.75},{"r":"a","x":4020,"y":-41.85},{"r":"a","x":4080,"y":-41.7},{"r":"a","x":4140,"y":-41.8},{"r":"a","x":4200,"y":-41.6},{"r":"a","x":4260,"y":-41.75},{"r":"a","x":4320,"y":-41.65},{"r":"a","x":4380,"y":-41.55},{"r":"a","x":4440,"y":-41.7},{"r":"a","x":4500,"y":-41.62},{"r":"a","x":4560,"y":-41.75},{"r":"a","x":4620,"y":-41.6},{"r":"a","x":4680,"y":-41.5},{"r":"a","x":4740,"y":-41.6},{"r":"a","x":4800,"y":-41.45},{"r":"a","x":4860,"y":-41.55},{"r":"a","x":4920,"y":-41.48},{"r":"a","x":5000,"y":-41.55},
{"r":"b","x":100,"y":-42.6},{"r":"b","x":150,"y":-42.1},{"r":"b","x":210,"y":-41.8},{"r":"b","x":270,"y":-41.62},{"r":"b","x":340,"y":-41.52},{"r":"b","x":410,"y":-41.48},{"r":"b","x":490,"y":-41.5},{"r":"b","x":570,"y":-41.46},{"r":"b","x":650,"y":-41.48},{"r":"b","x":730,"y":-41.44},{"r":"b","x":810,"y":-41.46},{"r":"b","x":890,"y":-41.42},{"r":"b","x":970,"y":-41.44},{"r":"b","x":1050,"y":-41.4},{"r":"b","x":1130,"y":-41.43},{"r":"b","x":1210,"y":-41.41},{"r":"b","x":1290,"y":-41.45},{"r":"b","x":1370,"y":-41.4},{"r":"b","x":1450,"y":-41.46},{"r":"b","x":1530,"y":-41.48},{"r":"b","x":1610,"y":-41.52},{"r":"b","x":1690,"y":-41.5},{"r":"b","x":1770,"y":-41.55},{"r":"b","x":1850,"y":-41.5},{"r":"b","x":1930,"y":-41.48},{"r":"b","x":2010,"y":-41.5},{"r":"b","x":2090,"y":-41.55},{"r":"b","x":2170,"y":-41.52},{"r":"b","x":2230,"y":-41.8},{"r":"b","x":2290,"y":-41.7},{"r":"b","x":2350,"y":-42.0},{"r":"b","x":2410,"y":-41.75},{"r":"b","x":2470,"y":-41.65},{"r":"b","x":2530,"y":-41.7},{"r":"b","x":2590,"y":-41.6},{"r":"b","x":2650,"y":-41.7},{"r":"b","x":2710,"y":-41.9},{"r":"b","x":2770,"y":-42.1},{"r":"b","x":2830,"y":-42.35},{"r":"b","x":2890,"y":-42.6},{"r":"b","x":2950,"y":-42.45},{"r":"b","x":3010,"y":-42.6},{"r":"b","x":3070,"y":-42.35},{"r":"b","x":3130,"y":-42.5},{"r":"b","x":3190,"y":-42.2},{"r":"b","x":3250,"y":-42.4},{"r":"b","x":3310,"y":-42.05},{"r":"b","x":3370,"y":-42.2},{"r":"b","x":3430,"y":-42.0},{"r":"b","x":3490,"y":-42.3},{"r":"b","x":3550,"y":-42.45},{"r":"b","x":3610,"y":-42.3},{"r":"b","x":3670,"y":-42.5},{"r":"b","x":3730,"y":-42.35},{"r":"b","x":3790,"y":-42.2},{"r":"b","x":3850,"y":-42.3},{"r":"b","x":3910,"y":-42.05},{"r":"b","x":3970,"y":-42.0},{"r":"b","x":4030,"y":-42.1},{"r":"b","x":4090,"y":-41.95},{"r":"b","x":4150,"y":-42.05},{"r":"b","x":4210,"y":-41.9},{"r":"b","x":4270,"y":-42.0},{"r":"b","x":4330,"y":-41.85},{"r":"b","x":4390,"y":-41.95},{"r":"b","x":4450,"y":-41.9},{"r":"b","x":4510,"y":-42.0},{"r":"b","x":4570,"y":-41.88},{"r":"b","x":4630,"y":-41.95},{"r":"b","x":4690,"y":-41.8},{"r":"b","x":4750,"y":-41.85},{"r":"b","x":4810,"y":-41.75},{"r":"b","x":4870,"y":-41.9},{"r":"b","x":4930,"y":-41.7},{"r":"b","x":5000,"y":-41.85}],
"p5lb":[{"r":"c","x":110,"y":-42.6},{"r":"c","x":160,"y":-42.2},{"r":"c","x":220,"y":-41.9},{"r":"c","x":290,"y":-41.72},{"r":"c","x":360,"y":-41.7},{"r":"c","x":440,"y":-41.66},{"r":"c","x":520,"y":-41.68},{"r":"c","x":600,"y":-41.6},{"r":"c","x":680,"y":-41.63},{"r":"c","x":760,"y":-41.56},{"r":"c","x":840,"y":-41.6},{"r":"c","x":920,"y":-41.52},{"r":"c","x":1000,"y":-41.56},{"r":"c","x":1080,"y":-41.5},{"r":"c","x":1160,"y":-41.55},{"r":"c","x":1240,"y":-41.5},{"r":"c","x":1320,"y":-41.54},{"r":"c","x":1400,"y":-41.48},{"r":"c","x":1480,"y":-41.52},{"r":"c","x":1560,"y":-41.46},{"r":"c","x":1640,"y":-41.5},{"r":"c","x":1720,"y":-41.45},{"r":"c","x":1800,"y":-41.5},{"r":"c","x":1880,"y":-41.48},{"r":"c","x":1960,"y":-41.55},{"r":"c","x":2040,"y":-41.5},{"r":"c","x":2120,"y":-41.6},{"r":"c","x":2200,"y":-41.7},{"r":"c","x":2250,"y":-42.1},{"r":"c","x":2300,"y":-41.8},{"r":"c","x":2360,"y":-42.0},{"r":"c","x":2420,"y":-41.7},{"r":"c","x":2480,"y":-41.9},{"r":"c","x":2540,"y":-41.8},{"r":"c","x":2600,"y":-42.0},{"r":"c","x":2660,"y":-41.9},{"r":"c","x":2720,"y":-42.2},{"r":"c","x":2780,"y":-42.4},{"r":"c","x":2840,"y":-42.3},{"r":"c","x":2900,"y":-42.6},{"r":"c","x":3000,"y":-42.7},{"r":"c","x":3200,"y":-42.7},{"r":"c","x":3400,"y":-42.6},{"r":"c","x":3460,"y":-42.4},{"r":"c","x":3520,"y":-42.5},{"r":"c","x":3580,"y":-42.3},{"r":"c","x":3640,"y":-42.45},{"r":"c","x":3700,"y":-42.2},{"r":"c","x":3760,"y":-42.35},{"r":"c","x":3820,"y":-42.2},{"r":"c","x":3880,"y":-42.1},{"r":"c","x":3940,"y":-42.25},{"r":"c","x":4000,"y":-42.15},{"r":"c","x":4060,"y":-42.05},{"r":"c","x":4120,"y":-42.15},{"r":"c","x":4180,"y":-42.0},{"r":"c","x":4240,"y":-42.1},{"r":"c","x":4300,"y":-41.95},{"r":"c","x":4360,"y":-42.05},{"r":"c","x":4420,"y":-41.9},{"r":"c","x":4480,"y":-42.0},{"r":"c","x":4540,"y":-41.85},{"r":"c","x":4600,"y":-41.9},{"r":"c","x":4660,"y":-41.7},{"r":"c","x":4720,"y":-41.6},{"r":"c","x":4780,"y":-41.5},{"r":"c","x":4840,"y":-41.55},{"r":"c","x":4900,"y":-41.45},{"r":"c","x":4960,"y":-41.52},{"r":"c","x":5000,"y":-41.5},
{"r":"d","x":120,"y":-42.6},{"r":"d","x":180,"y":-42.2},{"r":"d","x":240,"y":-41.95},{"r":"d","x":310,"y":-41.82},{"r":"d","x":390,"y":-41.78},{"r":"d","x":470,"y":-41.8},{"r":"d","x":550,"y":-41.74},{"r":"d","x":630,"y":-41.76},{"r":"d","x":710,"y":-41.7},{"r":"d","x":790,"y":-41.72},{"r":"d","x":870,"y":-41.66},{"r":"d","x":950,"y":-41.7},{"r":"d","x":1030,"y":-41.65},{"r":"d","x":1110,"y":-41.68},{"r":"d","x":1190,"y":-41.63},{"r":"d","x":1270,"y":-41.66},{"r":"d","x":1350,"y":-41.62},{"r":"d","x":1430,"y":-41.65},{"r":"d","x":1510,"y":-41.6},{"r":"d","x":1590,"y":-41.64},{"r":"d","x":1670,"y":-41.6},{"r":"d","x":1750,"y":-41.63},{"r":"d","x":1830,"y":-41.58},{"r":"d","x":1910,"y":-41.62},{"r":"d","x":1990,"y":-41.56},{"r":"d","x":2070,"y":-41.62},{"r":"d","x":2150,"y":-41.66},{"r":"d","x":2230,"y":-41.75},{"r":"d","x":2310,"y":-41.85},{"r":"d","x":2390,"y":-41.95},{"r":"d","x":2470,"y":-42.05},{"r":"d","x":2550,"y":-42.15},{"r":"d","x":2630,"y":-42.3},{"r":"d","x":2710,"y":-42.45},{"r":"d","x":2790,"y":-42.6},{"r":"d","x":3500,"y":-42.7},{"r":"d","x":3700,"y":-42.55},{"r":"d","x":3760,"y":-42.45},{"r":"d","x":3820,"y":-42.55},{"r":"d","x":3880,"y":-42.35},{"r":"d","x":3940,"y":-42.4},{"r":"d","x":4000,"y":-42.25},{"r":"d","x":4060,"y":-42.35},{"r":"d","x":4120,"y":-42.2},{"r":"d","x":4180,"y":-42.3},{"r":"d","x":4240,"y":-42.15},{"r":"d","x":4300,"y":-42.25},{"r":"d","x":4360,"y":-42.2},{"r":"d","x":4420,"y":-42.3},{"r":"d","x":4480,"y":-42.25},{"r":"d","x":4540,"y":-42.35},{"r":"d","x":4600,"y":-42.25},{"r":"d","x":4660,"y":-42.4},{"r":"d","x":4720,"y":-42.3},{"r":"d","x":4780,"y":-42.45},{"r":"d","x":4840,"y":-42.35},{"r":"d","x":4900,"y":-42.3},{"r":"d","x":4960,"y":-42.4},{"r":"d","x":5000,"y":-42.35}],
"p6md":[{"x":85,"y":-42.6},{"x":110,"y":-42.25},{"x":135,"y":-42.05},{"x":164,"y":-41.9},{"x":200,"y":-41.75},{"x":238,"y":-41.64},{"x":290,"y":-41.5},{"x":350,"y":-41.45},{"x":420,"y":-41.39},{"x":498,"y":-41.35},{"x":570,"y":-41.33},{"x":647,"y":-41.31},{"x":720,"y":-41.31},{"x":800,"y":-41.29},{"x":870,"y":-41.3},{"x":950,"y":-41.31},{"x":1020,"y":-41.29},{"x":1094,"y":-41.3},{"x":1170,"y":-41.28},{"x":1242,"y":-41.26},{"x":1320,"y":-41.29},{"x":1400,"y":-41.28},{"x":1466,"y":-41.3},{"x":1540,"y":-41.31},{"x":1620,"y":-41.29},{"x":1689,"y":-41.3},{"x":1760,"y":-41.31},{"x":1840,"y":-41.29},{"x":1912,"y":-41.3},{"x":1990,"y":-41.31},{"x":2060,"y":-41.29},{"x":2135,"y":-41.31},{"x":2210,"y":-41.32},{"x":2280,"y":-41.31},{"x":2358,"y":-41.33},{"x":2430,"y":-41.32},{"x":2510,"y":-41.34},{"x":2582,"y":-41.33},{"x":2660,"y":-41.34},{"x":2730,"y":-41.34},{"x":2805,"y":-41.35},{"x":2880,"y":-41.33},{"x":2950,"y":-41.35},{"x":3028,"y":-41.34},{"x":3090,"y":-41.33},{"x":3140,"y":-41.31},{"x":3200,"y":-41.36},{"x":3252,"y":-41.37},{"x":3330,"y":-41.38},{"x":3400,"y":-41.37},{"x":3475,"y":-41.39},{"x":3550,"y":-41.4},{"x":3620,"y":-41.39},{"x":3698,"y":-41.42},{"x":3770,"y":-41.41},{"x":3850,"y":-41.4},{"x":3921,"y":-41.39},{"x":4000,"y":-41.41},{"x":4070,"y":-41.4},{"x":4144,"y":-41.41},{"x":4190,"y":-41.42},{"x":4225,"y":-41.43},{"x":4240,"y":-41.5},{"x":4248,"y":-43.0},{"x":4400,"y":-43.0},{"x":4415,"y":-41.7},{"x":4440,"y":-41.5},{"x":4480,"y":-41.4},{"x":4516,"y":-41.39},{"x":4590,"y":-41.41},{"x":4665,"y":-41.39},{"x":4740,"y":-41.4},{"x":4814,"y":-41.41},{"x":4870,"y":-41.43},{"x":4926,"y":-41.42},{"x":4960,"y":-41.41},{"x":5000,"y":-41.43}],
"p6mb":[{"x":85,"y":-42.6},{"x":120,"y":-42.3},{"x":160,"y":-42.1},{"x":201,"y":-42.02},{"x":230,"y":-41.85},{"x":260,"y":-41.75},{"x":320,"y":-41.7},{"x":387,"y":-41.67},{"x":480,"y":-41.64},{"x":573,"y":-41.62},{"x":700,"y":-41.61},{"x":833,"y":-41.6},{"x":1000,"y":-41.6},{"x":1168,"y":-41.6},{"x":1320,"y":-41.59},{"x":1466,"y":-41.59},{"x":1600,"y":-41.58},{"x":1726,"y":-41.58},{"x":1880,"y":-41.6},{"x":2024,"y":-41.62},{"x":2170,"y":-41.61},{"x":2321,"y":-41.6},{"x":2490,"y":-41.61},{"x":2656,"y":-41.62},{"x":2800,"y":-41.63},{"x":2954,"y":-41.64},{"x":3080,"y":-41.66},{"x":3214,"y":-41.69},{"x":3380,"y":-41.67},{"x":3549,"y":-41.66},{"x":3700,"y":-41.67},{"x":3847,"y":-41.67},{"x":4000,"y":-41.68},{"x":4144,"y":-41.69},{"x":4260,"y":-41.7},{"x":4367,"y":-41.7},{"x":4520,"y":-41.68},{"x":4665,"y":-41.67},{"x":4800,"y":-41.68},{"x":4926,"y":-41.69},{"x":5000,"y":-41.69}],
"p6ld":[{"r":"a","x":85,"y":-42.6},{"r":"a","x":120,"y":-42.1},{"r":"a","x":160,"y":-41.8},{"r":"a","x":210,"y":-41.6},{"r":"a","x":270,"y":-41.45},{"r":"a","x":340,"y":-41.36},{"r":"a","x":420,"y":-41.32},{"r":"a","x":500,"y":-41.3},{"r":"a","x":580,"y":-41.27},{"r":"a","x":660,"y":-41.3},{"r":"a","x":740,"y":-41.25},{"r":"a","x":820,"y":-41.28},{"r":"a","x":900,"y":-41.23},{"r":"a","x":980,"y":-41.27},{"r":"a","x":1060,"y":-41.25},{"r":"a","x":1140,"y":-41.28},{"r":"a","x":1220,"y":-41.24},{"r":"a","x":1300,"y":-41.28},{"r":"a","x":1380,"y":-41.26},{"r":"a","x":1460,"y":-41.3},{"r":"a","x":1540,"y":-41.26},{"r":"a","x":1620,"y":-41.29},{"r":"a","x":1700,"y":-41.27},{"r":"a","x":1780,"y":-41.3},{"r":"a","x":1860,"y":-41.27},{"r":"a","x":1940,"y":-41.3},{"r":"a","x":2020,"y":-41.28},{"r":"a","x":2100,"y":-41.31},{"r":"a","x":2180,"y":-41.29},{"r":"a","x":2260,"y":-41.32},{"r":"a","x":2340,"y":-41.29},{"r":"a","x":2420,"y":-41.33},{"r":"a","x":2500,"y":-41.3},{"r":"a","x":2580,"y":-41.32},{"r":"a","x":2660,"y":-41.3},{"r":"a","x":2740,"y":-41.33},{"r":"a","x":2820,"y":-41.31},{"r":"a","x":2900,"y":-41.34},{"r":"a","x":2980,"y":-41.3},{"r":"a","x":3060,"y":-41.33},{"r":"a","x":3140,"y":-41.28},{"r":"a","x":3220,"y":-41.33},{"r":"a","x":3300,"y":-41.36},{"r":"a","x":3380,"y":-41.34},{"r":"a","x":3460,"y":-41.37},{"r":"a","x":3540,"y":-41.35},{"r":"a","x":3620,"y":-41.38},{"r":"a","x":3700,"y":-41.36},{"r":"a","x":3780,"y":-41.39},{"r":"a","x":3860,"y":-41.37},{"r":"a","x":3940,"y":-41.4},{"r":"a","x":4020,"y":-41.37},{"r":"a","x":4100,"y":-41.39},{"r":"a","x":4180,"y":-41.36},{"r":"a","x":4260,"y":-41.38},{"r":"a","x":4340,"y":-41.35},{"r":"a","x":4420,"y":-41.37},{"r":"a","x":4500,"y":-41.35},{"r":"a","x":4580,"y":-41.38},{"r":"a","x":4660,"y":-41.36},{"r":"a","x":4740,"y":-41.39},{"r":"a","x":4820,"y":-41.36},{"r":"a","x":4900,"y":-41.4},{"r":"a","x":5000,"y":-41.38},
{"r":"b","x":90,"y":-42.6},{"r":"b","x":130,"y":-42.15},{"r":"b","x":170,"y":-41.9},{"r":"b","x":220,"y":-41.7},{"r":"b","x":280,"y":-41.52},{"r":"b","x":350,"y":-41.42},{"r":"b","x":430,"y":-41.38},{"r":"b","x":510,"y":-41.36},{"r":"b","x":590,"y":-41.34},{"r":"b","x":670,"y":-41.35},{"r":"b","x":750,"y":-41.32},{"r":"b","x":830,"y":-41.34},{"r":"b","x":910,"y":-41.31},{"r":"b","x":990,"y":-41.34},{"r":"b","x":1070,"y":-41.32},{"r":"b","x":1150,"y":-41.33},{"r":"b","x":1230,"y":-41.3},{"r":"b","x":1310,"y":-41.33},{"r":"b","x":1390,"y":-41.31},{"r":"b","x":1470,"y":-41.34},{"r":"b","x":1550,"y":-41.32},{"r":"b","x":1630,"y":-41.33},{"r":"b","x":1710,"y":-41.31},{"r":"b","x":1790,"y":-41.34},{"r":"b","x":1870,"y":-41.32},{"r":"b","x":1950,"y":-41.35},{"r":"b","x":2030,"y":-41.32},{"r":"b","x":2110,"y":-41.34},{"r":"b","x":2190,"y":-41.33},{"r":"b","x":2270,"y":-41.36},{"r":"b","x":2350,"y":-41.34},{"r":"b","x":2430,"y":-41.37},{"r":"b","x":2510,"y":-41.35},{"r":"b","x":2590,"y":-41.37},{"r":"b","x":2670,"y":-41.35},{"r":"b","x":2750,"y":-41.38},{"r":"b","x":2830,"y":-41.36},{"r":"b","x":2910,"y":-41.38},{"r":"b","x":2990,"y":-41.37},{"r":"b","x":3070,"y":-41.39},{"r":"b","x":3150,"y":-41.36},{"r":"b","x":3230,"y":-41.4},{"r":"b","x":3310,"y":-41.41},{"r":"b","x":3390,"y":-41.4},{"r":"b","x":3470,"y":-41.43},{"r":"b","x":3550,"y":-41.41},{"r":"b","x":3630,"y":-41.44},{"r":"b","x":3710,"y":-41.42},{"r":"b","x":3790,"y":-41.45},{"r":"b","x":3870,"y":-41.43},{"r":"b","x":3950,"y":-41.44},{"r":"b","x":4030,"y":-41.42},{"r":"b","x":4110,"y":-41.45},{"r":"b","x":4190,"y":-41.43},{"r":"b","x":4250,"y":-41.42},{"r":"b","x":4330,"y":-41.44},{"r":"b","x":4410,"y":-41.42},{"r":"b","x":4490,"y":-41.45},{"r":"b","x":4570,"y":-41.42},{"r":"b","x":4650,"y":-41.44},{"r":"b","x":4730,"y":-41.42},{"r":"b","x":4810,"y":-41.45},{"r":"b","x":4890,"y":-41.43},{"r":"b","x":5000,"y":-41.46}],
"p6lb":[{"r":"c","x":90,"y":-42.6},{"r":"c","x":140,"y":-42.1},{"r":"c","x":190,"y":-41.85},{"r":"c","x":250,"y":-41.72},{"r":"c","x":320,"y":-41.65},{"r":"c","x":400,"y":-41.6},{"r":"c","x":480,"y":-41.58},{"r":"c","x":560,"y":-41.55},{"r":"c","x":640,"y":-41.58},{"r":"c","x":720,"y":-41.53},{"r":"c","x":800,"y":-41.56},{"r":"c","x":880,"y":-41.5},{"r":"c","x":960,"y":-41.55},{"r":"c","x":1040,"y":-41.52},{"r":"c","x":1120,"y":-41.56},{"r":"c","x":1200,"y":-41.5},{"r":"c","x":1280,"y":-41.55},{"r":"c","x":1360,"y":-41.52},{"r":"c","x":1440,"y":-41.56},{"r":"c","x":1520,"y":-41.53},{"r":"c","x":1600,"y":-41.56},{"r":"c","x":1680,"y":-41.52},{"r":"c","x":1760,"y":-41.56},{"r":"c","x":1840,"y":-41.55},{"r":"c","x":1920,"y":-41.58},{"r":"c","x":2000,"y":-41.55},{"r":"c","x":2080,"y":-41.59},{"r":"c","x":2160,"y":-41.56},{"r":"c","x":2240,"y":-41.6},{"r":"c","x":2320,"y":-41.56},{"r":"c","x":2400,"y":-41.6},{"r":"c","x":2480,"y":-41.58},{"r":"c","x":2560,"y":-41.61},{"r":"c","x":2640,"y":-41.58},{"r":"c","x":2720,"y":-41.62},{"r":"c","x":2800,"y":-41.59},{"r":"c","x":2880,"y":-41.62},{"r":"c","x":2960,"y":-41.6},{"r":"c","x":3040,"y":-41.64},{"r":"c","x":3120,"y":-41.62},{"r":"c","x":3200,"y":-41.65},{"r":"c","x":3280,"y":-41.63},{"r":"c","x":3360,"y":-41.66},{"r":"c","x":3440,"y":-41.63},{"r":"c","x":3520,"y":-41.66},{"r":"c","x":3600,"y":-41.64},{"r":"c","x":3680,"y":-41.67},{"r":"c","x":3760,"y":-41.64},{"r":"c","x":3840,"y":-41.67},{"r":"c","x":3920,"y":-41.65},{"r":"c","x":4000,"y":-41.68},{"r":"c","x":4080,"y":-41.65},{"r":"c","x":4160,"y":-41.68},{"r":"c","x":4240,"y":-41.66},{"r":"c","x":4320,"y":-41.69},{"r":"c","x":4400,"y":-41.66},{"r":"c","x":4480,"y":-41.68},{"r":"c","x":4560,"y":-41.65},{"r":"c","x":4640,"y":-41.68},{"r":"c","x":4720,"y":-41.64},{"r":"c","x":4800,"y":-41.66},{"r":"c","x":4880,"y":-41.64},{"r":"c","x":5000,"y":-41.66},
{"r":"d","x":95,"y":-42.6},{"r":"d","x":150,"y":-42.2},{"r":"d","x":200,"y":-41.95},{"r":"d","x":260,"y":-41.8},{"r":"d","x":330,"y":-41.73},{"r":"d","x":410,"y":-41.7},{"r":"d","x":490,"y":-41.68},{"r":"d","x":570,"y":-41.66},{"r":"d","x":650,"y":-41.68},{"r":"d","x":730,"y":-41.64},{"r":"d","x":810,"y":-41.67},{"r":"d","x":890,"y":-41.63},{"r":"d","x":970,"y":-41.66},{"r":"d","x":1050,"y":-41.62},{"r":"d","x":1130,"y":-41.65},{"r":"d","x":1210,"y":-41.61},{"r":"d","x":1290,"y":-41.64},{"r":"d","x":1370,"y":-41.6},{"r":"d","x":1450,"y":-41.63},{"r":"d","x":1530,"y":-41.61},{"r":"d","x":1610,"y":-41.64},{"r":"d","x":1690,"y":-41.62},{"r":"d","x":1770,"y":-41.65},{"r":"d","x":1850,"y":-41.62},{"r":"d","x":1930,"y":-41.66},{"r":"d","x":2010,"y":-41.64},{"r":"d","x":2090,"y":-41.67},{"r":"d","x":2170,"y":-41.64},{"r":"d","x":2250,"y":-41.67},{"r":"d","x":2330,"y":-41.65},{"r":"d","x":2410,"y":-41.68},{"r":"d","x":2490,"y":-41.66},{"r":"d","x":2570,"y":-41.69},{"r":"d","x":2650,"y":-41.66},{"r":"d","x":2730,"y":-41.69},{"r":"d","x":2810,"y":-41.67},{"r":"d","x":2890,"y":-41.7},{"r":"d","x":2970,"y":-41.68},{"r":"d","x":3050,"y":-41.71},{"r":"d","x":3130,"y":-41.7},{"r":"d","x":3210,"y":-41.74},{"r":"d","x":3290,"y":-41.72},{"r":"d","x":3370,"y":-41.75},{"r":"d","x":3450,"y":-41.72},{"r":"d","x":3530,"y":-41.74},{"r":"d","x":3610,"y":-41.71},{"r":"d","x":3690,"y":-41.74},{"r":"d","x":3770,"y":-41.72},{"r":"d","x":3850,"y":-41.75},{"r":"d","x":3930,"y":-41.72},{"r":"d","x":4010,"y":-41.75},{"r":"d","x":4090,"y":-41.73},{"r":"d","x":4170,"y":-41.76},{"r":"d","x":4250,"y":-41.74},{"r":"d","x":4330,"y":-41.76},{"r":"d","x":4410,"y":-41.74},{"r":"d","x":4490,"y":-41.77},{"r":"d","x":4570,"y":-41.74},{"r":"d","x":4650,"y":-41.76},{"r":"d","x":4730,"y":-41.73},{"r":"d","x":4810,"y":-41.75},{"r":"d","x":4890,"y":-41.72},{"r":"d","x":5000,"y":-41.75}]
},
"spacing":19,
"resolve":{"scale":{"color":"independent"},"legend":{"color":"independent"}},
"vconcat":[
{"hconcat":[
{"width":219,"height":175,
"encoding":{"x":{"field":"x","type":"quantitative","scale":{"domain":[0,5000],"nice":false},"axis":{"values":[0,1000,2000,3000,4000,5000],"format":"d","title":"Steps (thousands)"}},"y":{"field":"lo","type":"quantitative","scale":{"domain":[0,0.0014],"nice":false,"zero":false},"axis":{"values":[0,0.0002,0.0004,0.0006,0.0008,0.001,0.0012,0.0014],"format":".4f","title":"Gradient Variance"}},"y2":{"field":"hi"}},
"layer":[
{"data":{"name":"p1d"},"mark":{"type":"area","clip":true,"opacity":1},"encoding":{"color":{"datum":"IWAE-DReG","type":"nominal","scale":{"domain":["IWAE","IWAE-DReG"],"range":["#8c1c1c","#8c1c1c"]},"legend":{"title":null,"orient":"none","legendX":109,"legendY":6,"symbolType":"stroke","encode":{"symbols":{"update":{"strokeDash":{"signal":"datum.value === 'IWAE' ? [0,4,6,100] : [1,0]"},"stroke":{"value":"#8c1c1c"},"strokeWidth":{"value":2},"fill":{"value":"transparent"}}}}}}}},
{"data":{"name":"p1b"},"mark":{"type":"rule","strokeWidth":2,"clip":true},"encoding":{"color":{"datum":"IWAE","type":"nominal","legend":{"title":null,"orient":"none","legendX":109,"legendY":6,"symbolType":"stroke","encode":{"symbols":{"update":{"strokeDash":{"signal":"datum.value === 'IWAE' ? [0,4,6,100] : [1,0]"},"stroke":{"value":"#8c1c1c"},"strokeWidth":{"value":2},"fill":{"value":"transparent"}}}}}}}}
]},
{"width":222,"height":175,
"encoding":{"x":{"field":"x","type":"quantitative","scale":{"domain":[0,5000],"nice":false},"axis":{"values":[0,1000,2000,3000,4000,5000],"format":"d","title":"Steps (thousands)"}},"y":{"field":"lo","type":"quantitative","scale":{"domain":[0,0.0045],"nice":false,"zero":false},"axis":{"values":[0,0.0005,0.001,0.0015,0.002,0.0025,0.003,0.0035,0.004,0.0045],"format":".4f","title":"Gradient Variance"}},"y2":{"field":"hi"}},
"layer":[
{"data":{"name":"p2d"},"mark":{"type":"area","clip":true,"opacity":1},"encoding":{"color":{"datum":"RWS-DReG","type":"nominal","scale":{"domain":["RWS","RWS-DReG"],"range":["#4a8c0e","#4a8c0e"]},"legend":{"title":null,"orient":"none","legendX":118,"legendY":6,"symbolType":"stroke","encode":{"symbols":{"update":{"strokeDash":{"signal":"datum.value === 'RWS' ? [0,1,6,100] : [1,0]"},"stroke":{"value":"#4a8c0e"},"strokeWidth":{"value":2},"fill":{"value":"transparent"}}}}}}}},
{"data":{"name":"p2b"},"mark":{"type":"rule","strokeWidth":2,"clip":true},"encoding":{"color":{"datum":"RWS","type":"nominal","legend":{"title":null,"orient":"none","legendX":118,"legendY":6,"symbolType":"stroke","encode":{"symbols":{"update":{"strokeDash":{"signal":"datum.value === 'RWS' ? [0,1,6,100] : [1,0]"},"stroke":{"value":"#4a8c0e"},"strokeWidth":{"value":2},"fill":{"value":"transparent"}}}}}}}}
]},
{"width":225,"height":175,
"encoding":{"x":{"field":"x","type":"quantitative","scale":{"domain":[0,5000],"nice":false},"axis":{"values":[0,1000,2000,3000,4000,5000],"format":"d","title":"Steps (thousands)"}},"y":{"field":"lo","type":"quantitative","scale":{"domain":[0,0.006],"nice":false,"zero":false},"axis":{"values":[0,0.001,0.002,0.003,0.004,0.005,0.006],"format":".3f","title":"Gradient Variance"}},"y2":{"field":"hi"}},
"layer":[
{"data":{"name":"p3d"},"mark":{"type":"area","clip":true,"opacity":1},"encoding":{"color":{"datum":"JVI-DReG","type":"nominal","scale":{"domain":["JVI","JVI-DReG"],"range":["#178a8a","#178a8a"]},"legend":{"title":null,"orient":"none","legendX":131,"legendY":6,"symbolType":"stroke","encode":{"symbols":{"update":{"strokeDash":{"signal":"datum.value === 'JVI' ? [0,1,6,100] : [1,0]"},"stroke":{"value":"#178a8a"},"strokeWidth":{"value":2},"fill":{"value":"transparent"}}}}}}}},
{"data":{"name":"p3b"},"mark":{"type":"rule","strokeWidth":2.5,"clip":true},"encoding":{"color":{"datum":"JVI","type":"nominal","legend":{"title":null,"orient":"none","legendX":131,"legendY":6,"symbolType":"stroke","encode":{"symbols":{"update":{"strokeDash":{"signal":"datum.value === 'JVI' ? [0,1,6,100] : [1,0]"},"stroke":{"value":"#178a8a"},"strokeWidth":{"value":2},"fill":{"value":"transparent"}}}}}}}}
]}
],"spacing":100,"bounds":"flush","resolve":{"scale":{"color":"independent"},"legend":{"color":"independent"}}},
{"hconcat":[
{"width":219,"height":176,
"encoding":{"x":{"field":"x","type":"quantitative","scale":{"domain":[0,5000],"nice":false},"axis":{"values":[0,1000,2000,3000,4000,5000],"format":"d","title":"Steps (thousands)"}},"y":{"field":"y","type":"quantitative","scale":{"domain":[-42.5,-40.5],"nice":false,"zero":false},"axis":{"values":[-42.5,-42,-41.5,-41,-40.5],"format":".1f","title":"Test objective (nats)"}}},
"layer":[
{"data":{"name":"p4lb"},"mark":{"type":"line","clip":true,"color":"#8c1c1c","opacity":0.22,"strokeWidth":1.8,"strokeDash":[7,4]},"encoding":{"detail":{"field":"r"}}},
{"data":{"name":"p4ld"},"mark":{"type":"line","clip":true,"color":"#8c1c1c","opacity":0.22,"strokeWidth":1.8},"encoding":{"detail":{"field":"r"}}},
{"data":{"name":"p4mb"},"mark":{"type":"line","clip":true,"strokeWidth":2.5,"strokeDash":[4,10]},"encoding":{"color":{"datum":"IWAE","type":"nominal","scale":{"domain":["IWAE","IWAE-DReG"],"range":["#8c1c1c","#8c1c1c"]},"legend":{"title":null,"orient":"none","legendX":109,"legendY":132,"symbolType":"stroke","encode":{"symbols":{"update":{"strokeDash":{"signal":"datum.value === 'IWAE' ? [0,2,6,100] : [1,0]"},"stroke":{"value":"#8c1c1c"},"strokeWidth":{"value":2}}}}}}}},
{"data":{"name":"p4md"},"mark":{"type":"line","clip":true,"strokeWidth":2},"encoding":{"color":{"datum":"IWAE-DReG","type":"nominal"}}}
]},
{"width":223,"height":176,
"encoding":{"x":{"field":"x","type":"quantitative","scale":{"domain":[0,5000],"nice":false},"axis":{"values":[0,1000,2000,3000,4000,5000],"format":"d","title":"Steps (thousands)"}},"y":{"field":"y","type":"quantitative","scale":{"domain":[-42.5,-40.5],"nice":false,"zero":false},"axis":{"values":[-42.5,-42,-41.5,-41,-40.5],"format":".1f","title":"Test objective (nats)"}}},
"layer":[
{"data":{"name":"p5lb"},"mark":{"type":"line","clip":true,"color":"#4a8c0e","opacity":0.22,"strokeWidth":1.8,"strokeDash":[7,4]},"encoding":{"detail":{"field":"r"}}},
{"data":{"name":"p5ld"},"mark":{"type":"line","clip":true,"color":"#4a8c0e","opacity":0.22,"strokeWidth":1.8},"encoding":{"detail":{"field":"r"}}},
{"data":{"name":"p5mb"},"mark":{"type":"line","clip":true,"strokeWidth":2.5,"strokeDash":[4,10]},"encoding":{"color":{"datum":"RWS","type":"nominal","scale":{"domain":["RWS","RWS-DReG"],"range":["#4a8c0e","#4a8c0e"]},"legend":{"title":null,"orient":"none","legendX":118,"legendY":6,"symbolType":"stroke","encode":{"symbols":{"update":{"strokeDash":{"signal":"datum.value === 'RWS' ? [0,1,6,100] : [1,0]"},"stroke":{"value":"#4a8c0e"},"strokeWidth":{"value":2}}}}}}}},
{"data":{"name":"p5md"},"mark":{"type":"line","clip":true,"strokeWidth":2},"encoding":{"color":{"datum":"RWS-DReG","type":"nominal"}}}
]},
{"width":224,"height":176,
"encoding":{"x":{"field":"x","type":"quantitative","scale":{"domain":[0,5000],"nice":false},"axis":{"values":[0,1000,2000,3000,4000,5000],"format":"d","title":"Steps (thousands)"}},"y":{"field":"y","type":"quantitative","scale":{"domain":[-42.5,-40.5],"nice":false,"zero":false},"axis":{"values":[-42.5,-42,-41.5,-41,-40.5],"format":".1f","title":"Test objective (nats)"}}},
"layer":[
{"data":{"name":"p6lb"},"mark":{"type":"line","clip":true,"color":"#178a8a","opacity":0.22,"strokeWidth":1.8,"strokeDash":[7,4]},"encoding":{"detail":{"field":"r"}}},
{"data":{"name":"p6ld"},"mark":{"type":"line","clip":true,"color":"#178a8a","opacity":0.22,"strokeWidth":1.8},"encoding":{"detail":{"field":"r"}}},
{"data":{"name":"p6mb"},"mark":{"type":"line","clip":true,"strokeWidth":2.5,"strokeDash":[4,10]},"encoding":{"color":{"datum":"JVI","type":"nominal","scale":{"domain":["JVI","JVI-DReG"],"range":["#178a8a","#178a8a"]},"legend":{"title":null,"orient":"none","legendX":130,"legendY":6,"symbolType":"stroke","encode":{"symbols":{"update":{"strokeDash":{"signal":"datum.value === 'JVI' ? [0,1,6,100] : [1,0]"},"stroke":{"value":"#178a8a"},"strokeWidth":{"value":2}}}}}}}},
{"data":{"name":"p6md"},"mark":{"type":"line","clip":true,"strokeWidth":2},"encoding":{"color":{"datum":"JVI-DReG","type":"nominal"}}}
]}
],"spacing":100,"bounds":"flush","resolve":{"scale":{"color":"independent"},"legend":{"color":"independent"}}}
]
}
